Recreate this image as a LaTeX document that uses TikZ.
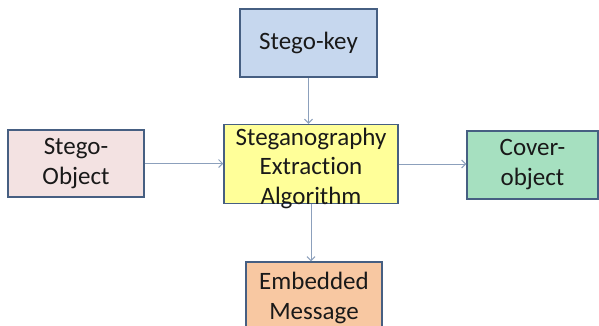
\documentclass[tikz,border=0pt]{standalone}
\usepackage{fontspec}
\setmainfont{Carlito}[Ligatures=CommonOff]
\usepackage{tikz}
\usetikzlibrary{arrows.meta}

\definecolor{boxline}{RGB}{70,95,130}
\definecolor{arrowline}{RGB}{140,160,188}
\definecolor{keyfill}{RGB}{198,215,238}
\definecolor{objfill}{RGB}{243,226,226}
\definecolor{algfill}{RGB}{255,255,153}
\definecolor{coverfill}{RGB}{166,224,192}
\definecolor{embfill}{RGB}{248,200,162}

\begin{document}
\begin{tikzpicture}[x=1pt,y=1pt,
  stegobox/.style={draw=boxline,line width=1.5pt,inner sep=0pt,align=center,
    text=black!90,font=\fontsize{25}{30}\selectfont},
  stegotext/.style={inner sep=0pt,align=center,text=black!90,font=\fontsize{25}{29.5}\selectfont},
  flow/.style={draw=arrowline,line width=1pt,-{Straight Barb[length=4pt,width=8pt]}}]
\useasboundingbox (0,0) rectangle (599,-325);
\clip (0,0) rectangle (599,-325);
% boxes
\node[stegobox,fill=keyfill,minimum width=137,minimum height=68] (key) at (308.5,-43) {Stego-key};
\node[stegobox,fill=objfill,minimum width=136,minimum height=67] (obj) at (76,-163.5) {Stego-\\Object};
\node[stegobox,fill=algfill,minimum width=174,minimum height=79] (alg) at (311,-164) {};
\node[stegotext] (algtext) at ([yshift=-4]alg.center) {Steganography\\Extraction\\Algorithm};
\node[stegobox,fill=coverfill,minimum width=131,minimum height=68] (cover) at (532.5,-165) {Cover-\\object};
\node[stegobox,fill=embfill,minimum width=136,minimum height=72] (emb) at (314,-298) {Embedded\\Message};
% arrows
\draw[flow] (key.south) -- (key.south |- alg.north);
\draw[flow] (obj.east) -- (obj.east -| alg.west);
\draw[flow] (alg.east) -- (alg.east -| cover.west);
\draw[flow] (alg.south) -- (alg.south |- emb.north);
\end{tikzpicture}
\end{document}
